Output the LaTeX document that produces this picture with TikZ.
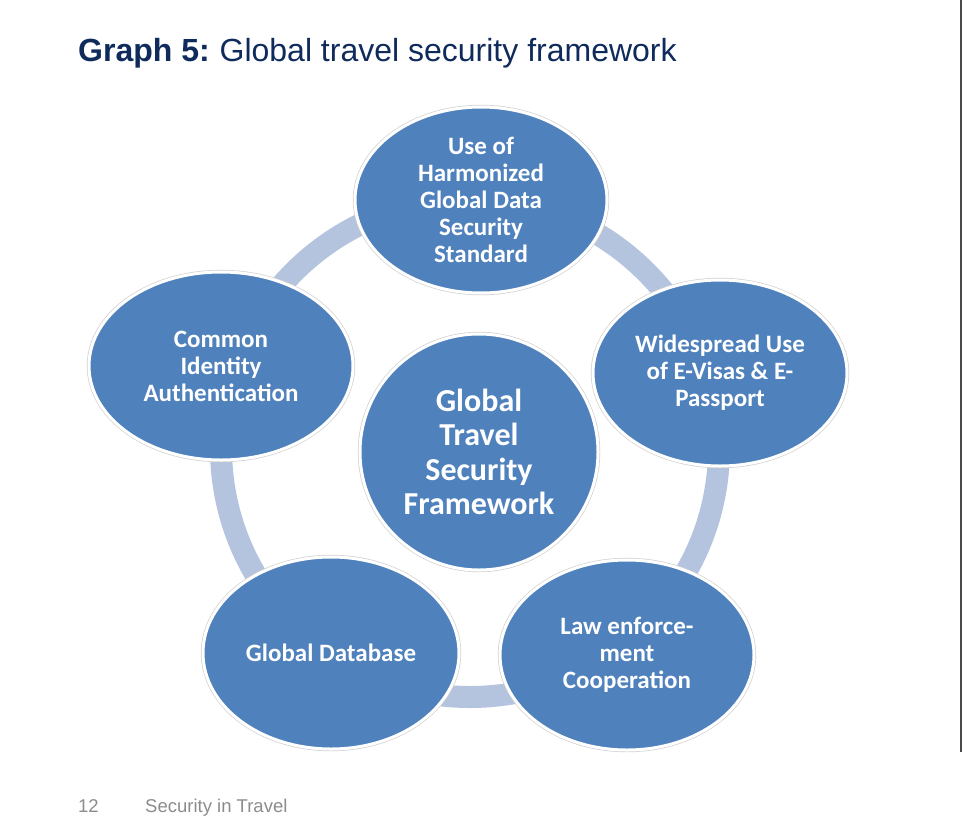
\documentclass[tikz,border=0pt]{standalone}
\usepackage{fontspec}
\setmainfont{Liberation Sans}
\newfontfamily\carl{Carlito}
\usetikzlibrary{shapes.geometric}
\definecolor{nodeblue}{HTML}{4F81BD}
\definecolor{ringblue}{HTML}{B4C4DF}
\definecolor{titleblue}{HTML}{0F2B5B}
\definecolor{footgray}{HTML}{8C8C8C}
\definecolor{edgegray}{HTML}{4A4A4A}
\begin{document}
\begin{tikzpicture}[x=1pt,y=-1pt,
  bubble/.style={ellipse, fill=nodeblue, draw=white, line width=3pt, inner sep=0pt,
    preaction={draw=black!18, line width=4.4pt}},
  lbl/.style={text=white, align=center, inner sep=0pt, font=\carl\bfseries\fontsize{25}{27}\selectfont},
  biglbl/.style={text=white, align=center, inner sep=0pt, font=\carl\bfseries\fontsize{32}{34.5}\selectfont},
  ring/.style={draw=ringblue, line width=22pt},
  titlestyle/.style={anchor=base west, inner sep=0pt, text=titleblue, font=\fontsize{32}{38}\selectfont},
  footstyle/.style={anchor=base west, inner sep=0pt, text=footgray, font=\fontsize{18.5}{22}\selectfont}
]
\fill[white] (0,0) rectangle (963,832);
\useasboundingbox (0,0) rectangle (963,832);

% title and footer
\node[titlestyle] (title) at (78,62) {\textbf{Graph 5:}\hspace{-2pt} Global travel security framework};
\node[footstyle] (pagenum) at (78,812) {12};
\node[footstyle] (foottext) at (145,812) {Security in Travel};

% page edge line
\coordinate (edgetop) at (960.5,0);
\coordinate (edgebot) at (960.5,752);
\draw[edgegray, line width=2pt] (edgetop) -- (edgebot);

% ring
\coordinate (ringc) at (470,448);
\draw[ring] (ringc) circle[radius=249];

% bubbles
\node[bubble, minimum width=252pt, minimum height=186pt] (top) at (481,200) {};
\node[bubble, minimum width=254pt, minimum height=186pt] (right) at (720,373) {};
\node[bubble, minimum width=264pt, minimum height=188pt] (left) at (221,366) {};
\node[bubble, minimum width=254pt, minimum height=190pt] (law) at (627,655) {};
\node[bubble, minimum width=256pt, minimum height=192pt] (db) at (331,653) {};
\node[bubble, minimum width=238pt, minimum height=236pt] (center) at (479,452) {};

% labels
\node[lbl] (toplbl) at (top) {Use of\\Harmonized\\Global Data\\Security\\Standard};
\node[lbl] (rightlbl) at (right) {Widespread Use\\of E-Visas \& E-\\Passport};
\node[lbl] (leftlbl) at (left) {Common\\Identity\\Authentication};
\node[lbl] (lawlbl) at (law) {Law enforce-\\ment\\Cooperation};
\node[lbl] (dblbl) at (db) {Global Database};
\node[biglbl] (centerlbl) at (center) {Global\\Travel\\Security\\Framework};
\end{tikzpicture}
\end{document}
